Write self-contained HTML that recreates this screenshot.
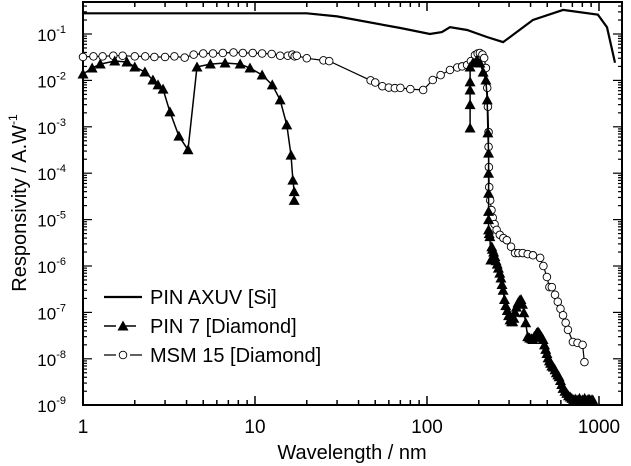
<!DOCTYPE html>
<html><head><meta charset="utf-8"><style>
body{margin:0;background:#fff}
svg{display:block;font-family:"Liberation Sans",Arial,sans-serif}
</style></head><body>
<svg id="chart" width="631" height="466" viewBox="0 0 631 466"></svg>
<script>
const xTicks=[1,10,100,1000];
const xTickLabels=["1","10","100","1000"];
const yExps=[-9,-8,-7,-6,-5,-4,-3,-2,-1];
const axuvWl=[1,20,30,70,104,122,136,171,223,277,304,413,618,986,1113,1239];
const axuvR=[0.28,0.28,0.24,0.135,0.1,0.11,0.14,0.122,0.086,0.067,0.086,0.2,0.33,0.26,0.14,0.024];
const pinWl=[1.0,1.13,1.26,1.53,1.8,2.0,2.29,2.55,2.73,2.92,3.2,3.61,4.08,4.6,5.5,6.7,8.2,9.35,11,12.6,14,15.3,16.2,16.6,16.9,16.9,null,
178,178,178,178,178,185,195,203,212,220,224,226,228,228,228,228,228,228,230,232,235,
238,240,244,248,252,256,260,265,269,273,277,282,287,293,298,304,310,315,320,325,331,338,345,352,359,366,375,385,395,406,413,420,427,434,442,450,457,465,473,482,490,498,506,515,523,532,543,555,565,576,586,597,607,618,634,650,665,680,695,710,727,745,770,800,825,855,875,900,920,945,970,1000,1025,1050];
const pinR=[0.0137,0.0185,0.0225,0.0262,0.0249,0.0195,0.0152,0.0102,0.008,0.0065,0.0021,0.00063,0.00032,0.0195,0.0225,0.0237,0.0225,0.0185,0.0131,0.008,0.0038,0.0011,0.000245,7.1e-5,4e-5,2.6e-5,null,
9.4e-4,0.003,0.0062,0.0093,0.0195,0.024,0.0276,0.0237,0.0151,0.0102,0.0038,7.4e-4,2.7e-4,1e-4,3.7e-5,1.5e-5,1e-5,6e-6,5e-6,4.3e-6,1.35e-6,
2.6e-6,2.3e-6,2e-6,1.6e-6,1.3e-6,1.1e-6,9e-7,7e-7,5.5e-7,4e-7,3e-7,1.9e-7,1.4e-7,1.1e-7,8.5e-8,6.9e-8,6.3e-8,6.3e-8,7.5e-8,1.0e-7,1.3e-7,1.6e-7,1.8e-7,1.9e-7,1.5e-7,9.8e-8,6e-8,3e-8,2.8e-8,2.7e-8,2.6e-8,3e-8,3.2e-8,3.6e-8,3.8e-8,3.5e-8,3.2e-8,2.9e-8,2.6e-8,2e-8,1.6e-8,1.3e-8,1.05e-8,9e-9,8e-9,7e-9,6.6e-9,5.8e-9,5e-9,4.5e-9,4.1e-9,3.4e-9,2.8e-9,2.3e-9,2e-9,1.8e-9,1.6e-9,1.5e-9,1.4e-9,1.3e-9,1.35e-9,1.3e-9,1.4e-9,1.3e-9,1.4e-9,1.3e-9,1.35e-9,1.3e-9,1.3e-9];
const msmWl=[1,1.15,1.3,1.5,1.7,2,2.3,2.6,3,3.4,3.9,4.4,5,5.7,6.5,7.5,8.5,9.7,11,12.5,14,15.5,16.5,17,17.5,20,25,27,47,50,55,60,65,70,80,95,108,120,136,150,160,171,180,190,197,203,210,215,220,224,226,228,228,229,230,233,237,241,247,254,265,278,291,308,325,340,360,385,413,455,475,498,515,532,555,576,597,618,640,660,705,750,803,823];
const msmR=[0.032,0.033,0.033,0.034,0.034,0.033,0.033,0.032,0.032,0.033,0.031,0.036,0.038,0.038,0.039,0.04,0.039,0.039,0.038,0.037,0.034,0.034,0.036,0.033,0.034,0.03,0.027,0.026,0.01,0.009,0.0075,0.007,0.0068,0.0069,0.0065,0.0062,0.0102,0.013,0.0168,0.019,0.02,0.0215,0.026,0.035,0.038,0.039,0.036,0.0304,0.0185,0.0069,0.0027,7.7e-4,3.7e-4,1.35e-4,5e-5,2.6e-5,1.6e-5,1.1e-5,8e-6,6e-6,4.7e-6,4e-6,3.6e-6,2.6e-6,1.9e-6,1.9e-6,1.9e-6,1.8e-6,1.7e-6,1.5e-6,1e-6,5.8e-7,3.5e-7,3.5e-7,2.4e-7,1.7e-7,1.2e-7,8.7e-8,6e-8,4.2e-8,2.3e-8,2.2e-8,2e-8,8.5e-9];

const NS='http://www.w3.org/2000/svg';
const svg=document.getElementById('chart');
const L=83,R=622,T=2,B=405,DX=172,DY=46.4;
const xs=v=>L+DX*Math.log10(v);
const ys=v=>34-DY*(Math.log10(v)+1);
function mk(tag,attrs,parent){const e=document.createElementNS(NS,tag);for(const k in attrs)e.setAttribute(k,attrs[k]);(parent||svg).appendChild(e);return e;}

const axes=mk('g',{});


const frame=mk('rect',{x:L,y:T,width:R-L,height:B-T,fill:'none',stroke:'#000','stroke-width':2},axes);



for(let d=0;d<4;d++){for(let m=1;m<10;m++){const v=Math.pow(10,d)*m;const x=xs(v);if(x>R)break;const len=m===1?9:5;
mk('line',{x1:x,y1:B,x2:x,y2:B-len,stroke:'#000','stroke-width':1.5},axes);
mk('line',{x1:x,y1:T,x2:x,y2:T+len,stroke:'#000','stroke-width':1.5},axes);}}
xTicks.forEach((v,i)=>{const t=mk('text',{x:xs(v),y:433,'font-size':19,'text-anchor':'middle'},axes);t.textContent=xTickLabels[i];

});
for(let e=-9;e<=0;e++){for(let m=1;m<10;m++){const v=m*Math.pow(10,e);const y=ys(v);if(y<T||y>B)continue;const len=m===1?9:4;
mk('line',{x1:L,y1:y,x2:L+len,y2:y,stroke:'#000','stroke-width':1.2},axes);
mk('line',{x1:R,y1:y,x2:R-len,y2:y,stroke:'#000','stroke-width':1.2},axes);}}
yExps.forEach(e=>{const y=ys(Math.pow(10,e));const t=mk('text',{x:66,y:y+7,'font-size':17,'text-anchor':'end'},axes);
t.textContent='10';const s=mk('tspan',{'font-size':11,dy:-8},t);s.textContent=String(e);

});
const xt=mk('text',{x:352,y:459,'font-size':20,'text-anchor':'middle'});xt.textContent='Wavelength / nm';


const yt=mk('text',{transform:'translate(26,203) rotate(-90)','font-size':20,'text-anchor':'middle'});
yt.textContent='Responsivity / A.W';const ys2=mk('tspan',{'font-size':12,dy:-9},yt);ys2.textContent='-1';



function pathFrom(wl,r){let d='',pen=false;for(let i=0;i<wl.length;i++){if(wl[i]===null){pen=false;continue;}d+=(pen?'L':'M')+xs(wl[i]).toFixed(1)+' '+ys(r[i]).toFixed(1);pen=true;}return d;}
function tri(g,x,y){return mk('path',{d:`M${x} ${y-5.5}L${x+5.5} ${y+4.5}L${x-5.5} ${y+4.5}Z`,fill:'#000'},g);}

const ax=mk('path',{d:pathFrom(axuvWl,axuvR),fill:'none',stroke:'#000','stroke-width':2.2});


const mg=mk('g',{});


mk('path',{d:pathFrom(msmWl,msmR),fill:'none',stroke:'#000','stroke-width':1.2},mg);
msmWl.forEach((w,i)=>{if(w===null)return;mk('circle',{cx:xs(w),cy:ys(msmR[i]),r:3.8,fill:'#fff',stroke:'#000','stroke-width':0.9},mg);});
const pg=mk('g',{});


mk('path',{d:pathFrom(pinWl,pinR),fill:'none',stroke:'#000','stroke-width':1.5},pg);
pinWl.forEach((w,i)=>{if(w===null)return;tri(pg,xs(w),ys(pinR[i]));});

const lg=mk('g',{});


mk('line',{x1:104,y1:297,x2:142,y2:297,stroke:'#000','stroke-width':2.2},lg);
mk('line',{x1:104,y1:326,x2:142,y2:326,stroke:'#000','stroke-width':1.5,'stroke-dasharray':'12 8'},lg);tri(lg,123,326);
mk('line',{x1:104,y1:355,x2:142,y2:355,stroke:'#000','stroke-width':1.2,'stroke-dasharray':'12 14'},lg);
mk('circle',{cx:123,cy:355,r:3.8,fill:'#fff',stroke:'#000','stroke-width':0.9},lg);
[['PIN AXUV [Si]',297],['PIN 7 [Diamond]',326],['MSM 15 [Diamond]',355]].forEach(([s,y])=>{const t=mk('text',{x:150,y:y+7,'font-size':20},lg);t.textContent=s;

});
</script>
</body></html>
